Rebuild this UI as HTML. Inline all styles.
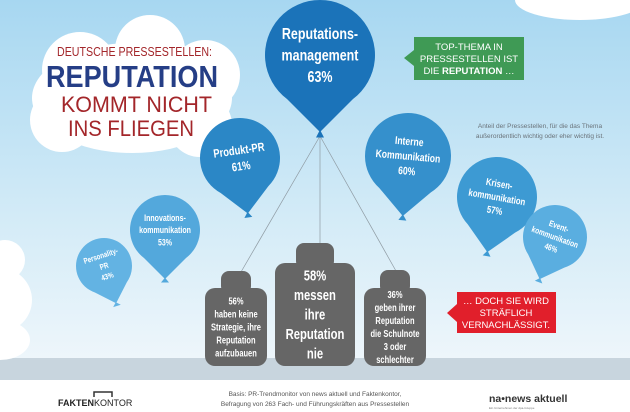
<!DOCTYPE html>
<html><head><meta charset="utf-8"><style>
html,body{margin:0;padding:0;width:630px;height:412px;overflow:hidden;background:#fff}
svg{display:block}
.b{font-family:"Liberation Sans Narrow","Liberation Sans",sans-serif;font-weight:bold;fill:#fff;text-anchor:middle}
.f{font-family:"Liberation Sans",sans-serif}
</style></head><body>
<svg id="chart" width="630" height="412" viewBox="0 0 630 412">
<defs>
<linearGradient id="sky" x1="0" y1="0" x2="0" y2="1">
<stop offset="0" stop-color="#a7d7f1"/><stop offset="0.6" stop-color="#d3ebf7"/><stop offset="1" stop-color="#eef6fb"/>
</linearGradient>
</defs>
<rect x="0" y="0" width="630" height="360" fill="url(#sky)"/>
<rect x="0" y="358" width="630" height="22" fill="#c8d5de"/>
<rect x="0" y="380" width="630" height="32" fill="#fff"/>
<g fill="#fff">
<ellipse cx="132" cy="98" rx="100" ry="55"/><circle cx="80" cy="70" r="38"/><circle cx="150" cy="50" r="35"/>
<circle cx="205" cy="75" r="35"/><circle cx="62" cy="120" r="32"/><circle cx="200" cy="125" r="32"/>
</g>
<g fill="#fff"><ellipse cx="580" cy="0" rx="65" ry="20"/></g>
<g fill="#fff"><circle cx="0" cy="300" r="32"/><circle cx="5" cy="260" r="20"/><ellipse cx="0" cy="340" rx="30" ry="20"/></g>
<text x="57" y="56" textLength="155" lengthAdjust="spacingAndGlyphs" class="f" font-size="13" fill="#a3262a">DEUTSCHE PRESSESTELLEN:</text>
<text x="46" y="87" textLength="172" lengthAdjust="spacingAndGlyphs" class="f" font-size="31" font-weight="bold" fill="#253e86">REPUTATION</text>
<text x="61" y="112" textLength="151" lengthAdjust="spacingAndGlyphs" class="f" font-size="22" fill="#a3262a">KOMMT NICHT</text>
<text x="68" y="136" textLength="126" lengthAdjust="spacingAndGlyphs" class="f" font-size="22" fill="#a3262a">INS FLIEGEN</text>
<g stroke="#8f9ba3" stroke-width="0.7">
<line x1="320" y1="136" x2="241" y2="272"/><line x1="320" y1="136" x2="320" y2="245"/><line x1="320" y1="136" x2="396" y2="271"/>
</g>
<g id="balloons"></g>
<g>
<polygon points="404,58 414,50 414,66" fill="#3f9a55"/><rect x="414" y="37" width="110" height="43" fill="#3f9a55"/>
<text class="f" font-size="9.5" fill="#fff" text-anchor="middle"><tspan x="469" y="50">TOP-THEMA IN</tspan><tspan x="469" y="62">PRESSESTELLEN IST</tspan><tspan x="469" y="74">DIE <tspan font-weight="bold">REPUTATION</tspan> …</tspan></text>
</g>
<text class="f" font-size="6.5" fill="#6a737a" text-anchor="middle"><tspan x="540" y="128">Anteil der Pressestellen, für die das Thema</tspan><tspan x="540" y="138">außerordentlich wichtig oder eher wichtig ist.</tspan></text>
<g id="weights"></g>
<g>
<polygon points="447,313 457,304 457,322" fill="#e11f2b"/><rect x="457" y="292" width="99" height="41" fill="#e11f2b"/>
<text class="f" font-size="9.5" fill="#fff" text-anchor="middle"><tspan x="506" y="304">… DOCH SIE WIRD</tspan><tspan x="506" y="316">STRÄFLICH</tspan><tspan x="506" y="328">VERNACHLÄSSIGT.</tspan></text>
</g>
<g>
<path d="M94,397 V392 H112 V397" fill="none" stroke="#333" stroke-width="1.5"/>
<text x="58" y="406" class="f" font-size="9" font-weight="bold" fill="#222">FAKTEN<tspan font-weight="normal">KONTOR</tspan></text>
</g>
<text class="f" font-size="6.5" fill="#555" text-anchor="middle"><tspan x="315" y="396">Basis: PR-Trendmonitor von news aktuell und Faktenkontor,</tspan><tspan x="315" y="406">Befragung von 263 Fach- und Führungskräften aus Pressestellen</tspan></text>
<g>
<text x="489" y="402" class="f" font-size="10.5" font-weight="bold" fill="#333">na•news aktuell</text>
<text x="489" y="409" class="f" font-size="3" fill="#777">Ein Unternehmen der dpa-Gruppe</text>
</g>
</svg>
<script>
const balloonLabels = [["Reputations-","management"],["Produkt-PR"],["Interne","Kommunikation"],["Krisen-","kommunikation"],["Event-","kommunikation"],["Innovations-","kommunikation"],["Personality-","PR"]];
const balloonValues = [63, 61, 60, 57, 46, 53, 43];
const weightTexts = [["56%","haben keine","Strategie, ihre","Reputation","aufzubauen"],["58%","messen","ihre","Reputation","nie"],["36%","geben ihrer","Reputation","die Schulnote","3 oder","schlechter"]];
// layout (not data)
const layout = [
 {x:320,y:55,r:55,rot:0,c:"#1b73b9",fs:16},
 {x:240,y:158,r:40,rot:-8,c:"#2b87c6",fs:12},
 {x:408,y:156,r:43,rot:5,c:"#3590cc",fs:11},
 {x:497,y:197,r:40,rot:10,c:"#3d9ad3",fs:10},
 {x:555,y:237,r:32,rot:20,c:"#5aaee0",fs:8.5},
 {x:165,y:230,r:35,rot:0,c:"#53a8dc",fs:9},
 {x:104,y:266,r:28,rot:-18,c:"#63b3e3",fs:8}
];
const NS="http://www.w3.org/2000/svg";
const bg=document.getElementById('balloons');
function mk(t,a,p){const e=document.createElementNS(NS,t);for(const k in a)e.setAttribute(k,a[k]);p.appendChild(e);return e;}
balloonValues.forEach((v,i)=>{
 const L=layout[i];
 const g=mk('g',{transform:`rotate(${L.rot} ${L.x} ${L.y})`},bg);
 
 
 const r=L.r;
 mk('path',{d:`M${L.x-r*0.6},${L.y+r*0.8} A${r},${r} 0 1 1 ${L.x+r*0.6},${L.y+r*0.8} L${L.x},${L.y+r*1.4} Z`,fill:L.c},g);
 mk('polygon',{points:`${L.x},${L.y+r*1.36} ${L.x-4},${L.y+r*1.5} ${L.x+4},${L.y+r*1.5}`,fill:L.c},g);
 const lines=balloonLabels[i].concat([v+"%"]);
 const lh=L.fs*1.35, y0=L.y-(lines.length-1)*lh/2+L.fs*0.35;
 const tg=mk('g',{transform:`translate(${L.x} 0) scale(0.78 1) translate(${-L.x} 0)`},g);
 lines.forEach((t,j)=>{const e=mk('text',{x:L.x,y:y0+j*lh,'font-size':L.fs,class:'b'},tg);e.textContent=t;});
});
const wg=document.getElementById('weights');
const wl=[{x:205,w:62,top:288,kt:271,kw:30},{x:275,w:80,top:263,kt:243,kw:38},{x:364,w:62,top:288,kt:270,kw:30}];
weightTexts.forEach((lines,i)=>{
 const W=wl[i], cx=W.x+W.w/2;
 const g=mk('g',{},wg);
 
 
 mk('rect',{x:cx-W.kw/2,y:W.kt,width:W.kw,height:(W.top-W.kt)+6,rx:8,fill:'#666'},g);
 mk('rect',{x:W.x,y:W.top,width:W.w,height:366-W.top,rx:10,fill:'#666'},g);
 const fs=i==1?15:10, lh=fs*1.3, y0=(W.top+366)/2-(lines.length-1)*lh/2+fs*0.35;
 const tg=mk('g',{transform:`translate(${cx} 0) scale(0.75 1) translate(${-cx} 0)`},g);
 lines.forEach((t,j)=>{const e=mk('text',{x:cx,y:y0+j*lh,'font-size':fs,class:'b'},tg);e.textContent=t;});
});
</script>
</body></html>
